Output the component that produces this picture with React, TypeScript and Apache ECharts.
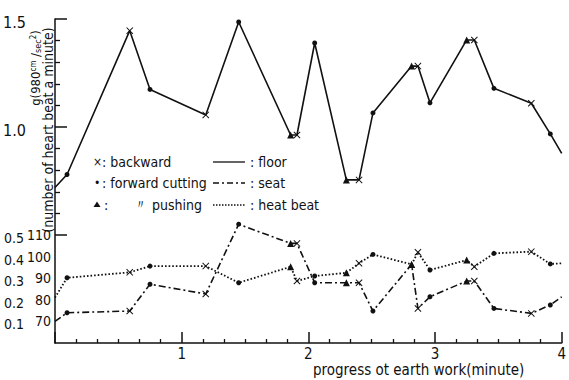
import React, { useEffect, useRef } from 'react';
import * as echarts from 'echarts';

// progress of earth work (minute) at each recorded change of action
const times = [0, 0.095, 0.59, 0.75, 1.19, 1.45, 1.86, 1.91, 2.05, 2.3, 2.4, 2.51, 2.815, 2.865, 2.96, 3.25, 3.31, 3.465, 3.76, 3.91, 4.0];
// B: backward, F: forward cutting, P: forward pushing
const actions = ['', 'F', 'B', 'F', 'B', 'F', 'P', 'B', 'F', 'P', 'B', 'F', 'P', 'B', 'F', 'P', 'B', 'F', 'B', 'F', ''];
// acceleration g (980 cm/sec²)
const floorG = [0.72, 0.78, 1.446, 1.174, 1.056, 1.486, 0.963, 0.963, 1.389, 0.755, 0.755, 1.065, 1.282, 1.282, 1.112, 1.403, 1.403, 1.179, 1.11, 0.968, 0.878];
const seatG = [0.1, 0.14, 0.148, 0.272, 0.227, 0.55, 0.461, 0.461, 0.279, 0.279, 0.279, 0.148, 0.364, 0.16, 0.214, 0.287, 0.287, 0.16, 0.137, 0.176, 0.214];
// number of heart beat a minute
const heartBeat = [81, 90.2, 92.7, 95.6, 95.6, 87.9, 95.3, 88.7, 91, 92.5, 96.9, 101, 96.4, 102, 93.8, 98.4, 95.3, 101.5, 102.3, 96.6, 96.9];

const gLabels = [0.1, 0.2, 0.3, 0.4, 0.5, 1.0, 1.5];
const gMajorTicks = [0.5, 1.0, 1.5];
const gMinorTicks = [0.6, 0.7, 0.8, 0.9, 1.1, 1.2, 1.3, 1.4];
const hbLabels = [70, 80, 90, 100, 110];
const xLabels = [1, 2, 3, 4];

const FONT = "'Liberation Sans Narrow', 'DejaVu Sans Condensed', 'Roboto Condensed', 'Liberation Sans', sans-serif";
const INK = '#111';
const CROSS = 'path://M1,0 L5,4 L9,0 L10,1 L6,5 L10,9 L9,10 L5,6 L1,10 L0,9 L4,5 L0,1 Z';

function marker(a: string) {
  if (a === 'B') return { symbol: CROSS, symbolSize: 7 };
  if (a === 'F') return { symbol: 'circle', symbolSize: 5 };
  if (a === 'P') return { symbol: 'triangle', symbolSize: 7 };
  return { symbol: 'none', symbolSize: 0 };
}

function buildData(vals: number[]) {
  return times.map((t, i) => ({ value: [t, vals[i]], ...marker(actions[i]) }));
}

function txt(text: string, x: number, y: number, extra: any = {}) {
  return {
    type: 'text',
    x,
    y,
    silent: true,
    style: { text, fill: INK, fontFamily: FONT, fontSize: 14, align: 'left', verticalAlign: 'middle', ...extra },
  };
}

function legendLine(y: number, dash: number[] | null, width = 1.3) {
  return {
    type: 'line',
    silent: true,
    shape: { x1: 213, y1: y, x2: 245, y2: y },
    style: { stroke: INK, lineWidth: width, lineDash: dash || undefined },
  };
}

const option: any = {
  animation: false,
  backgroundColor: '#fff',
  textStyle: { fontFamily: FONT, color: INK },
  grid: { left: 55, right: 6, top: 19, bottom: 37, containLabel: false },
  xAxis: {
    type: 'value',
    min: 0,
    max: 4,
    interval: 1,
    axisLine: { show: true, lineStyle: { color: INK, width: 1.5 } },
    axisTick: { show: true, inside: true, length: 11, lineStyle: { color: INK, width: 1.5 } },
    minorTick: { show: true, splitNumber: 6, length: 4, lineStyle: { color: INK, width: 1.3 } },
    axisLabel: {
      customValues: xLabels,
      color: INK,
      fontFamily: FONT,
      fontSize: 15,
      margin: 3,
    },
    splitLine: { show: false },
  },
  yAxis: [
    {
      type: 'value',
      min: 0,
      max: 1.5,
      position: 'left',
      axisLine: { show: true, lineStyle: { color: INK, width: 1.5 } },
      axisTick: { show: true, inside: true, length: 12, customValues: gMajorTicks, lineStyle: { color: INK, width: 1.5 } },
      axisLabel: {
        customValues: gLabels,
        margin: 29,
        color: INK,
        fontFamily: FONT,
        padding: [6, 0, 0, 0],
        formatter: (v: number) => (v >= 1 ? `{b|${v.toFixed(1)}}` : `{s|${v.toFixed(1)}}`),
        rich: {
          b: { fontSize: 16, fontFamily: FONT, color: INK },
          s: { fontSize: 14, fontFamily: FONT, color: INK, padding: [0, 2, 0, 0] },
        },
      },
      splitLine: { show: false },
    },
    {
      type: 'value',
      min: 0,
      max: 1.5,
      position: 'left',
      axisLine: { show: false },
      axisTick: { show: true, inside: true, length: 5, customValues: gMinorTicks, lineStyle: { color: INK, width: 1.3 } },
      axisLabel: { show: false },
      splitLine: { show: false },
    },
    {
      type: 'value',
      min: 60,
      max: 210,
      position: 'left',
      axisLine: { show: false },
      axisTick: { show: false },
      axisLabel: {
        customValues: hbLabels,
        margin: 4,
        color: INK,
        fontFamily: FONT,
        fontSize: 14,
        padding: [6, 0, 0, 0],
      },
      splitLine: { show: false },
    },
  ],
  series: [
    {
      name: 'floor',
      type: 'line',
      yAxisIndex: 0,
      data: buildData(floorG),
      lineStyle: { color: INK, width: 1.6, type: 'solid' },
      itemStyle: { color: INK },
    },
    {
      name: 'seat',
      type: 'line',
      yAxisIndex: 0,
      data: buildData(seatG),
      lineStyle: { color: INK, width: 1.6, type: [7, 3, 2, 3] },
      itemStyle: { color: INK },
    },
    {
      name: 'heat beat',
      type: 'line',
      yAxisIndex: 2,
      data: buildData(heartBeat),
      lineStyle: { color: INK, width: 1.8, type: [1.6, 2] },
      itemStyle: { color: INK },
    },
  ],
  graphic: [
    // y-axis titles
    {
      type: 'text',
      x: 35.5,
      y: 68,
      rotation: Math.PI / 2,
      silent: true,
      style: {
        text: '{n|g(980}{sup|cm}{n| /}{sub|sec}{sup|2}{n|)}',
        align: 'center',
        verticalAlign: 'middle',
        fill: INK,
        rich: {
          n: { fontSize: 13, fontFamily: FONT, fill: INK },
          sup: { fontSize: 8, fontFamily: FONT, fill: INK, verticalAlign: 'top' },
          sub: { fontSize: 9, fontFamily: FONT, fill: INK, verticalAlign: 'bottom' },
        },
      },
    },
    {
      type: 'text',
      x: 47.5,
      y: 130,
      rotation: Math.PI / 2,
      silent: true,
      style: {
        text: '(number of heart beat a minute)',
        align: 'center',
        verticalAlign: 'middle',
        fill: INK,
        fontFamily: FONT,
        fontSize: 14,
      },
    },
    // x-axis name
    txt('progress ot earth work(minute)', 313, 370, { fontSize: 15 }),
    // legend, left column
    txt('×', 93, 162, { fontSize: 12 }),
    txt(': backward', 102, 162),
    txt('•', 94, 183, { fontSize: 12 }),
    txt(': forward cutting', 102, 183),
    {
      type: 'polygon',
      silent: true,
      shape: { points: [[97, 201.5], [93.5, 207], [100.5, 207]] },
      style: { fill: INK },
    },
    txt(':', 104, 205),
    txt('〃', 134, 204, { fontSize: 13 }),
    txt('pushing', 152, 205),
    // legend, right column
    legendLine(162, null),
    txt(': floor', 250, 162),
    legendLine(183, [6, 3, 2, 3]),
    txt(': seat', 250, 183),
    legendLine(205, [1.5, 1.5], 1.6),
    txt(': heat beat', 250, 205),
  ],
};

export default function App() {
  const ref = useRef<HTMLDivElement>(null);
  useEffect(() => {
    const chart = echarts.init(ref.current as HTMLDivElement, null, { renderer: 'svg' });
    chart.setOption(option);
    return () => chart.dispose();
  }, []);
  return (
    <div
      ref={ref}
      style={{ position: 'fixed', left: 0, top: 0, width: 569, height: 380, background: '#fff' }}
    />
  );
}
